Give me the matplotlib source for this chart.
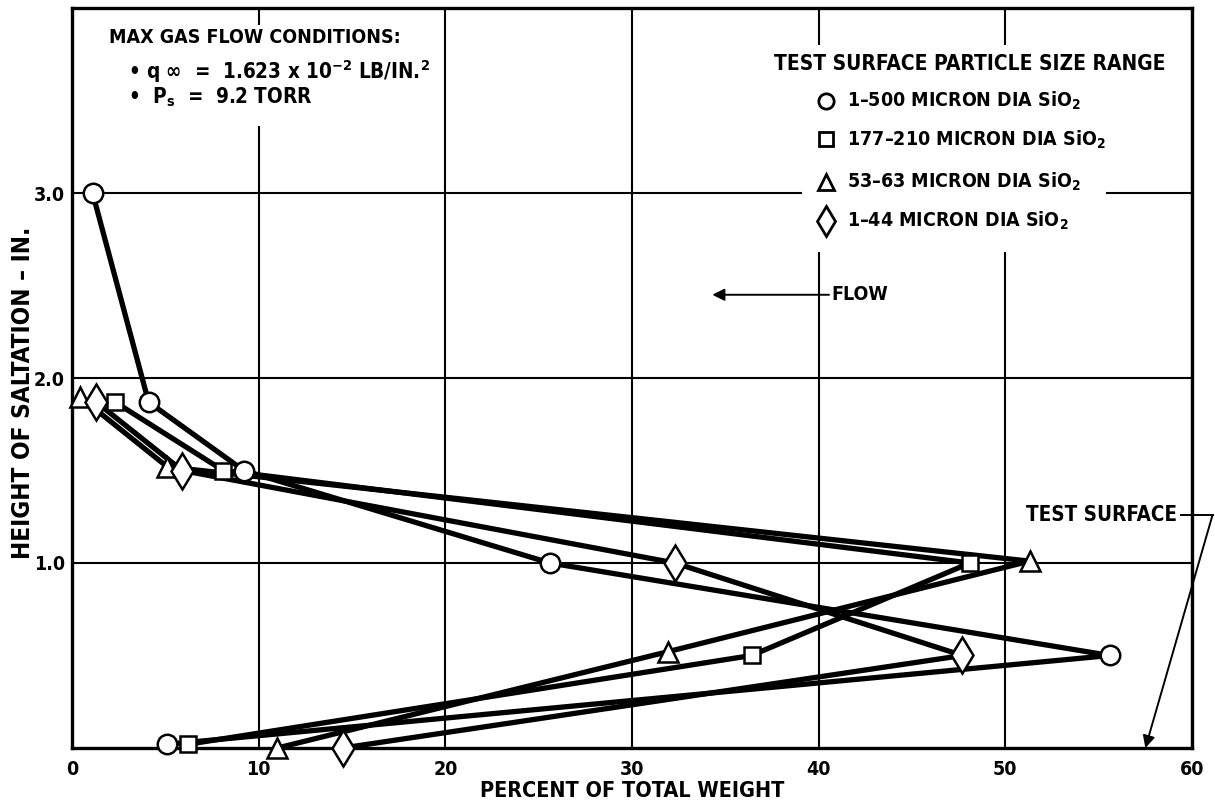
import matplotlib
matplotlib.use("Agg")
import matplotlib.pyplot as plt
from matplotlib.patches import Rectangle

# condensed bold lettering throughout
MATH_FONT = "DejaVu Sans:weight=bold:stretch=condensed"
plt.rcParams["font.family"] = ["DejaVu Sans"]
plt.rcParams["font.stretch"] = "condensed"
plt.rcParams["font.weight"] = "bold"
plt.rcParams["mathtext.fontset"] = "custom"
plt.rcParams["mathtext.rm"] = MATH_FONT
plt.rcParams["mathtext.it"] = MATH_FONT
plt.rcParams["mathtext.bf"] = MATH_FONT

# percent of total weight vs height of saltation (in.) for each particle size
h_500 = [3.0, 1.87, 1.5, 1.0, 0.5, 0.02]
pct_500 = [1.1, 4.1, 9.2, 25.6, 55.6, 5.1]

h_177 = [1.87, 1.5, 1.0, 0.5, 0.02]
pct_177 = [2.3, 8.1, 48.1, 36.4, 6.2]

h_53 = [1.9, 1.52, 1.01, 0.52, 0.0]
pct_53 = [0.4, 5.1, 51.3, 31.9, 11.0]

h_44 = [1.87, 1.5, 1.0, 0.5, 0.0]
pct_44 = [1.3, 5.9, 32.3, 47.7, 14.5]

labels = ["1\u2013500 MICRON DIA SiO$_2$",
          "177\u2013210 MICRON DIA SiO$_2$",
          "53\u201363 MICRON DIA SiO$_2$",
          "1\u201344 MICRON DIA SiO$_2$"]

x_ticks = [0, 10, 20, 30, 40, 50, 60]
y_ticks = [1.0, 2.0, 3.0]

series = [
    (pct_500, h_500, "o", 14),
    (pct_177, h_177, "s", 12),
    (pct_53, h_53, "^", 15),
    (pct_44, h_44, "d", 18),
]

fig = plt.figure(figsize=(12.15, 8.11), dpi=100)
ax = fig.add_axes([0.0593, 0.0777, 0.9218, 0.9124])
ax.set_xlim(0, 60)
ax.set_ylim(0, 4.0)

ax.set_xticks(x_ticks)
ax.set_xticklabels([str(t) for t in x_ticks], fontsize=14, fontweight="bold")
ax.set_yticks(y_ticks)
ax.set_yticklabels(["%.1f" % t for t in y_ticks], fontsize=14, fontweight="bold")
ax.tick_params(length=0, pad=5)
ax.tick_params(axis="x", pad=9)
ax.grid(True, color="black", lw=1.5)
ax.set_axisbelow(True)
for s in ax.spines.values():
    s.set_linewidth(2.4)

ax.set_xlabel("PERCENT OF TOTAL WEIGHT", fontsize=15.5, fontweight="bold", labelpad=1)
ax.text(-0.0437, 0.48, "HEIGHT OF SALTATION \u2013 IN.", transform=ax.transAxes,
        rotation=90, ha="center", va="center", fontsize=17.5, fontweight="bold")

# lines first, then the open symbols on top of everything
for x, y, m, ms in series:
    ax.plot(x, y, color="black", lw=3.8, zorder=3, clip_on=False)
for x, y, m, ms in series:
    ax.plot(x, y, ls="none", marker=m, ms=ms, mfc="white", mec="black",
            mew=1.8, zorder=4, clip_on=False)

# flight conditions block
ax.add_patch(Rectangle((2.0, 3.36), 17.0, 0.55, facecolor="white",
                       edgecolor="none", zorder=1.5))
ax.text(2.0, 3.84, "MAX GAS FLOW CONDITIONS:", fontsize=14, va="center", zorder=5)
ax.text(3.0, 3.66, "\u2022 q \u221e  =  1.623 x 10$^{-2}$ LB/IN.$^2$",
        fontsize=14.8, va="center", zorder=5)
ax.text(3.0, 3.52, "\u2022  P$_s$  =  9.2 TORR", fontsize=14.8, va="center", zorder=5)

# particle size key
ax.add_patch(Rectangle((39.1, 2.68), 16.3, 1.12, facecolor="white",
                       edgecolor="none", zorder=1.5))
ax.text(48.1, 3.70, "TEST SURFACE PARTICLE SIZE RANGE", fontsize=15,
        ha="center", va="center", zorder=5)
key_y = [3.50, 3.29, 3.06, 2.85]
key_ms = [11, 10, 12, 15]
for (x, y, m, ms), ky, kms, lab in zip(series, key_y, key_ms, labels):
    ax.plot([40.4], [ky], ls="none", marker=m, ms=kms, mfc="white",
            mec="black", mew=2.0, zorder=5)
    ax.text(41.5, ky, lab, fontsize=14, va="center", zorder=5)

# flow direction
ax.annotate("FLOW", xy=(34.3, 2.45), xytext=(40.7, 2.45), fontsize=14,
            ha="left", va="center", zorder=5,
            arrowprops=dict(arrowstyle="-|>", color="black", lw=1.4,
                            mutation_scale=18, shrinkA=0, shrinkB=0))

# test surface callout
ax.text(59.2, 1.26, "TEST SURFACE", fontsize=14.8, ha="right", va="center",
        zorder=5, bbox=dict(facecolor="white", edgecolor="none", pad=1))
ax.plot([59.4, 61.1], [1.26, 1.26], color="black", lw=1.4, clip_on=False, zorder=5)
ax.annotate("", xy=(57.5, 0.0), xytext=(61.1, 1.26), annotation_clip=False,
            arrowprops=dict(arrowstyle="-|>", color="black", lw=1.4,
                            mutation_scale=18, shrinkA=0, shrinkB=0))

fig.savefig("out.png", dpi=100)
